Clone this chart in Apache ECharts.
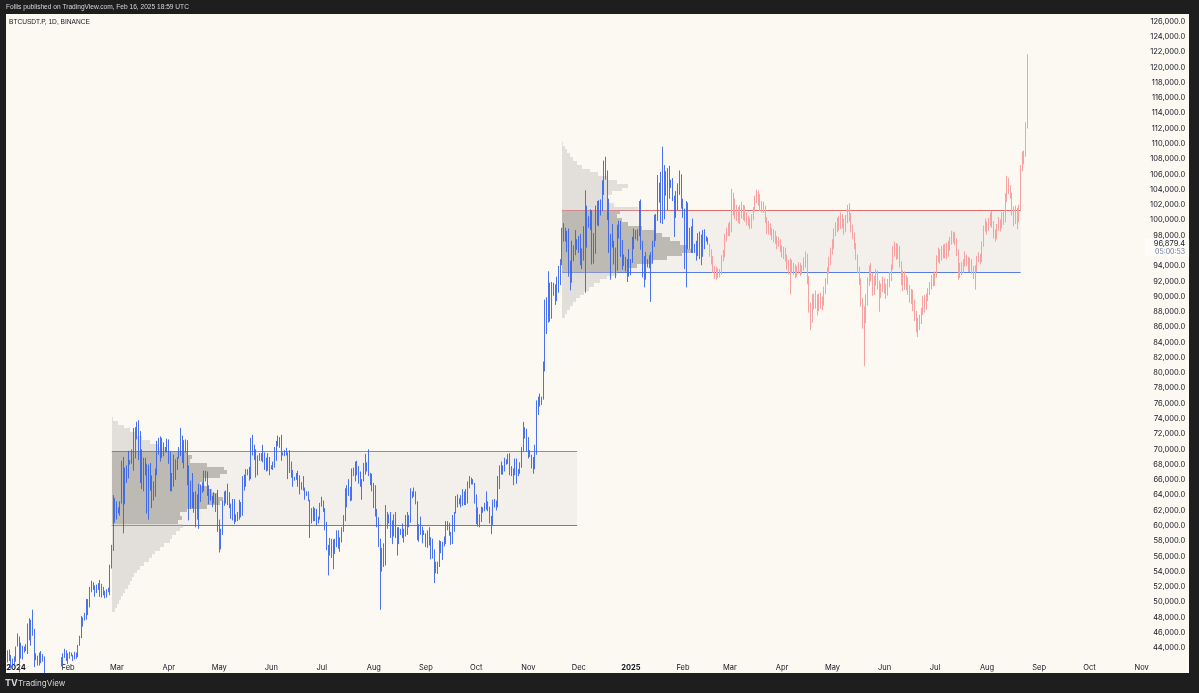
<!DOCTYPE html>
<html><head><meta charset="utf-8">
<script src="https://cdn.jsdelivr.net/npm/echarts@6/dist/echarts.min.js"></script>
<style>
html,body{margin:0;padding:0;background:#1e1e1e;width:1199px;height:693px;overflow:hidden}
#panel{position:absolute;left:6px;top:14px;width:1183px;height:659px;background:#fcf8f2}
#chart{position:absolute;left:0;top:0;width:1199px;height:693px}
</style></head><body>
<div id="panel"></div><div id="chart"></div>
<script>
// ---------- tick labels / axis ----------
const monthNames = ['Jan','Feb','Mar','Apr','May','Jun','Jul','Aug','Sep','Oct','Nov','Dec'];
const axisStartUTC = Date.UTC(2023, 11, 27);
const axisEndUTC = Date.UTC(2025, 10, 2);
const yMin = 42428, yMax = 126900;
const hiddenPriceTicks = [96000];

// ---------- real candles: [close, high, low] in thousands USDT; open = previous close ----------
const firstOpen = 42.5;
const btcDec2023 = [[43.4,43.7,42.1],[42.6,43.8,42.3],[42.1,43.1,41.3],[42.2,42.6,41.5],[42.3,42.9,41.9]];
const btcJan2024 = [[44.2,44.2,42.2],[44.9,45.9,44.2],[42.8,45.5,40.8],[44.2,44.7,42.6],[44.1,44.3,42.5],[43.9,44.2,43.4],[43.9,44.5,43.6],[47.0,47.2,43.2],[46.1,47.9,45.0],[46.6,47.7,44.3],
[46.3,49.0,45.6],[42.8,46.5,41.5],[42.8,43.3,42.4],[41.7,43.0,41.7],[42.5,43.4,41.7],[43.1,43.6,42.0],[42.7,43.2,42.2],[41.3,42.9,40.7],[41.6,42.2,40.3],[41.7,41.9,41.4],
[41.6,41.9,41.5],[39.5,41.7,39.4],[39.9,40.5,38.5],[40.1,40.6,39.5],[39.9,40.3,39.5],[41.8,42.2,39.8],[42.1,42.2,41.4],[42.0,42.8,41.6],[43.3,43.3,41.8],[42.9,43.9,42.7],
[42.6,43.7,42.3]];
const btcFeb2024 = [[43.1,43.3,41.9],[43.2,43.5,42.6],[43.0,43.4,42.9],[42.6,43.1,42.3],[42.7,43.5,42.5],[43.1,43.4,42.6],[44.3,44.4,42.8],[45.3,45.6,44.3],[47.1,48.2,45.3],[47.8,48.0,46.8],
[48.3,48.6,47.6],[50.0,50.4,47.7],[49.7,50.4,48.3],[51.8,52.0,49.3],[52.0,52.8,51.3],[52.1,52.6,51.6],[51.6,52.2,50.7],[52.1,52.3,51.2],[51.8,52.5,51.6],[52.3,52.9,50.7],
[51.8,52.4,50.6],[51.3,52.0,50.9],[50.7,51.5,50.5],[51.6,51.7,50.6],[51.7,51.9,51.3],[54.5,54.9,50.9],[57.0,57.5,54.4],[62.4,64.0,56.7],[61.2,63.6,60.4]];
const btcMar2024 = [[62.4,63.2,60.8],[62.0,62.4,61.6],[63.1,63.2,61.3],[68.3,68.5,62.9],[63.8,69.0,59.0],[66.1,67.6,62.8],[66.9,67.9,65.6],[68.3,69.8,66.2],[68.5,68.6,68.0],[69.0,70.0,68.1],
[72.1,72.8,67.2],[71.5,72.9,68.8],[73.1,73.6,71.3],[71.4,73.8,68.6],[69.5,72.4,65.6],[65.3,70.0,64.8],[68.4,68.9,64.5],[67.6,68.9,66.6],[62.0,68.1,61.6],[67.8,68.0,60.8],
[65.5,68.2,64.6],[63.8,66.6,62.3],[64.1,65.8,63.3],[67.2,67.5,63.8],[70.0,71.1,66.6],[69.9,71.5,69.3],[69.5,71.7,68.4],[70.7,71.5,68.9],[69.9,70.9,69.1],[69.6,70.3,69.6],
[71.3,71.4,69.6]];
const btcApr2024 = [[69.7,71.3,68.1],[65.5,69.7,64.5],[66.0,66.9,64.5],[68.5,69.3,65.1],[67.8,68.7,66.0],[68.9,69.0,67.3],[69.4,70.3,68.8],[71.6,72.8,69.1],[69.1,71.8,68.2],[70.6,71.2,67.5],
[70.0,71.3,69.6],[67.1,71.2,65.3],[63.9,67.9,60.7],[65.7,65.9,62.2],[63.4,66.9,62.3],[63.8,64.4,61.7],[61.3,64.5,59.8],[63.5,64.1,60.8],[63.8,65.5,59.6],[64.9,65.4,63.1],
[64.9,65.7,64.3],[66.8,67.2,64.5],[66.4,67.2,65.8],[64.3,67.1,63.9],[64.5,65.3,62.8],[63.8,64.8,63.3],[63.5,63.9,62.4],[63.1,64.4,62.9],[63.8,64.2,61.8],[60.6,64.7,59.2]];
const btcMay2024 = [[58.3,60.8,56.5],[59.1,59.6,56.9],[62.9,63.3,58.8],[63.9,64.5,62.6],[64.0,64.6,62.9],[63.2,65.5,62.7],[62.3,64.4,62.3],[61.2,62.9,60.9],[63.1,63.5,60.7],[60.8,63.5,60.2],
[60.8,61.5,60.5],[61.5,61.8,60.6],[62.9,63.4,60.8],[61.6,63.1,61.1],[66.3,66.5,61.3],[65.2,66.7,64.6],[67.0,67.4,65.1],[66.9,67.4,66.6],[66.3,67.7,65.9],[71.4,71.5,66.1],
[70.1,71.9,69.2],[69.1,70.6,68.6],[67.9,70.0,66.3],[68.5,69.2,66.6],[69.3,69.5,68.5],[68.5,69.5,68.5],[69.4,70.6,68.3],[68.3,69.6,67.3],[67.6,68.9,67.1],[68.4,69.5,67.2],
[67.5,69.0,66.6]];
const btcJun2024 = [[67.7,67.9,67.4],[67.8,68.4,67.3],[68.8,70.3,67.6],[70.6,71.1,68.5],[71.1,71.8,70.4],[70.8,71.6,70.2],[69.3,71.9,68.5],[69.3,69.6,69.2],[69.6,69.9,69.1],[69.5,70.2,69.2],
[67.3,69.6,66.1],[68.2,69.9,66.9],[66.8,68.4,66.3],[66.0,67.3,65.1],[66.2,66.4,65.9],[66.6,66.9,66.0],[66.5,67.2,65.1],[65.2,66.6,64.1],[64.9,65.7,64.7],[64.8,66.5,64.6],
[64.1,65.0,63.4],[64.3,64.5,63.9],[63.3,64.5,63.2],[60.3,63.4,58.4],[61.8,62.3,60.3],[60.9,62.5,60.6],[61.6,62.3,60.6],[60.3,62.2,60.0],[60.9,61.2,60.3],[62.7,63.0,60.8]];
const btcJul2024 = [[62.8,63.8,62.5],[62.0,63.3,61.8],[60.2,62.3,59.4],[57.0,60.5,56.8],[56.6,57.5,53.5],[58.2,58.4,56.1],[55.9,58.3,55.8],[56.7,58.2,54.3],[58.0,58.3,56.3],[57.7,59.4,57.2],
[57.3,59.4,57.0],[57.9,58.5,56.6],[59.2,59.8,57.8],[60.8,61.4,59.2],[64.7,64.9,60.6],[65.1,65.3,62.4],[64.1,66.1,63.9],[63.9,65.1,63.2],[66.7,67.5,63.3],[67.2,67.6,66.5],
[68.2,68.4,65.8],[67.6,68.5,66.6],[65.9,67.8,65.5],[65.4,67.1,65.1],[65.8,66.1,63.4],[67.9,68.2,65.8],[68.0,69.4,66.7],[68.3,68.3,67.1],[66.8,70.0,66.5],[66.2,66.9,65.3],
[64.6,66.8,64.5]];
const btcAug2024 = [[65.3,65.6,62.3],[61.5,65.0,61.2],[60.7,62.2,59.8],[58.1,61.1,57.2],[54.0,58.3,49.0],[56.0,57.1,54.0],[55.1,57.7,54.6],[61.7,62.7,54.8],[60.9,61.8,59.6],[60.9,61.5,60.3],
[58.7,61.8,58.4],[59.3,60.7,57.6],[60.6,61.5,58.6],[58.7,61.8,58.4],[57.6,59.8,56.1],[58.9,59.8,57.7],[59.5,59.6,58.8],[58.4,60.3,58.4],[59.4,59.6,57.8],[59.0,61.4,58.6],
[61.1,61.8,58.8],[60.4,61.4,59.8],[64.1,64.9,60.4],[64.1,64.5,63.6],[64.2,65.0,63.8],[62.8,64.5,62.8],[59.4,63.2,58.1],[59.0,60.2,57.9],[59.4,61.2,58.8],[59.1,59.9,57.7],
[58.9,59.4,58.8]];
const btcSep2024 = [[57.3,59.0,57.2],[59.1,59.4,57.1],[57.5,59.8,57.4],[58.0,58.5,55.6],[56.2,58.3,55.7],[54.0,56.9,52.5],[54.9,55.3,53.8],[54.9,55.3,53.7],[57.0,58.1,54.6],[57.6,58.0,56.4],
[57.3,57.9,55.5],[58.1,58.6,57.3],[60.5,60.6,57.6],[60.0,60.6,59.4],[59.1,60.4,58.7],[58.2,59.2,57.5],[60.3,61.4,57.6],[61.8,61.8,59.2],[62.9,63.9,61.6],[63.2,64.1,62.4],
[63.3,63.6,62.8],[63.6,64.0,62.4],[63.3,64.8,62.6],[64.3,64.5,62.7],[63.2,64.8,62.7],[65.2,65.8,62.9],[65.9,66.5,64.9],[65.9,66.3,65.4],[65.6,66.1,65.4],[63.3,65.6,62.9]];
const btcOct2024 = [[60.8,64.1,60.2],[60.6,62.4,59.9],[60.8,61.5,59.8],[62.1,62.5,60.5],[62.1,62.4,61.7],[62.8,63.0,61.9],[62.2,64.5,62.1],[62.1,63.2,61.9],[60.6,62.5,60.3],[60.3,61.3,58.9],
[62.5,63.4,60.1],[63.2,63.5,62.4],[62.9,63.3,62.0],[66.1,66.5,62.4],[67.0,67.9,64.8],[67.6,68.4,66.7],[67.4,67.9,66.7],[68.4,68.9,67.1],[68.4,68.7,68.0],[69.0,69.4,68.1],
[67.4,69.5,66.6],[67.4,67.8,66.5],[66.7,67.5,65.3],[68.2,68.8,66.6],[66.6,68.8,65.5],[67.0,67.4,66.5],[68.0,68.3,66.8],[69.9,70.3,67.6],[72.7,73.6,69.7],[72.3,72.9,71.4],
[70.2,72.7,69.7]];
const btcNov2024 = [[69.5,71.6,68.8],[69.3,69.9,69.0],[68.7,69.3,67.5],[67.8,69.0,66.8],[69.4,70.6,67.4],[75.6,76.4,69.3],[75.9,76.9,74.5],[76.5,77.3,75.6],[76.7,76.9,75.8],[80.4,81.5,76.5],
[88.7,89.6,80.2],[87.9,89.9,85.1],[90.5,93.3,86.6],[87.3,91.8,86.7],[91.1,91.9,87.1],[90.6,91.8,90.1],[89.8,91.6,88.9],[90.5,92.6,89.4],[92.3,94.0,90.9],[94.3,94.9,91.5],
[98.4,99.0,94.1],[98.9,99.6,97.2],[97.8,99.0,97.2],[98.0,98.6,95.8],[93.0,98.9,92.6],[91.9,94.7,90.8],[95.9,97.3,91.8],[95.6,96.7,94.6],[97.5,98.7,95.4],[96.4,97.5,96.1]];
const btcDec2024 = [[97.2,97.9,95.7],[95.8,98.2,94.1],[96.0,96.3,93.6],[98.8,99.2,94.7],[97.0,103.9,90.5],[99.9,101.9,96.4],[99.9,100.5,99.0],[101.2,101.4,98.7],[97.4,101.3,94.2],[96.6,98.3,94.3],
[101.1,101.9,95.6],[100.0,102.5,99.3],[101.4,102.6,99.2],[101.4,102.7,100.6],[104.3,105.2,101.2],[106.0,107.8,103.3],[106.1,108.3,105.3],[100.2,106.5,100.0],[97.5,102.8,95.7],[97.8,98.2,92.2],
[97.2,99.5,96.4],[95.1,97.3,94.2],[94.8,96.4,92.4],[98.7,99.4,93.4],[99.5,99.9,97.6],[95.8,99.9,95.2],[94.2,97.4,93.5],[95.2,95.5,94.0],[93.6,95.2,93.3],[92.8,94.9,91.9],
[93.5,96.2,92.6]];
const btcJan2025 = [[94.6,94.9,92.8],[96.9,97.8,94.4],[98.1,98.9,96.2],[98.2,98.7,97.5],[98.3,98.8,97.3],[102.2,102.5,97.9],[96.9,102.7,96.1],[95.0,97.3,92.5],[92.5,95.3,91.2],[94.7,95.8,92.2],
[94.5,94.9,93.8],[94.5,95.4,93.7],[94.5,95.8,89.3],[96.5,97.3,94.3],[100.5,100.7,96.5],[99.9,100.8,97.3],[104.1,105.9,99.9],[104.4,104.9,102.3],[101.3,106.3,99.6],[102.2,109.6,99.5],
[106.1,107.2,100.1],[103.6,106.4,103.2],[103.9,106.8,101.3],[104.8,107.1,102.8],[104.7,105.3,104.2],[102.6,105.5,102.5],[102.0,103.2,97.8],[101.3,103.8,100.3],[103.7,104.8,101.3],[104.7,106.5,103.3],
[102.4,106.0,101.5]];
const btcFeb2025 = [[100.6,102.8,100.3],[97.7,101.5,93.6],[101.4,102.5,91.2],[97.8,102.3,96.2],[96.6,99.0,96.2],[96.6,99.2,95.7],[96.5,100.2,95.7],[96.5,96.9,95.7],[96.5,97.3,94.7],[97.4,98.3,95.3],
[95.8,98.5,94.9],[97.9,98.1,94.1],[96.6,98.7,95.2],[97.5,98.8,96.2],[97.6,97.9,97.2],[96.9,97.7,96.8]];

// ---------- projected (red) candles: [close, high, low] ----------
const projFeb2025 = [[95.8,96.9,95.2],[94.9,96.2,94.2],[93.6,95.3,93.1],[92.9,94.0,92.3],[93.4,93.9,92.2],[92.7,93.7,92.4],[93.2,93.6,92.5],[95.0,95.4,92.9],[95.3,96.1,94.6],[97.8,98.2,95.1],[98.5,99.0,97.2],[99.1,99.6,97.9]];
const projMar2025 = [[98.6,99.8,97.9],[101.5,104.1,98.4],[102.2,103.6,100.6],[100.6,102.8,100.1],[101.3,102.0,99.9],[100.2,101.7,99.6],[101.6,102.0,99.5],[100.6,102.4,100.2],[101.5,102.0,100.0],[100.4,101.9,99.8],
[99.6,101.0,99.3],[99.9,100.6,99.2],[99.3,100.3,98.8],[100.3,100.8,98.9],[101.4,101.7,100.0],[102.6,103.2,101.1],[103.3,104.0,102.2],[102.8,103.9,101.9],[101.6,103.4,101.2],[102.0,102.5,101.0],
[101.6,102.4,100.9],[100.1,101.9,99.6],[98.6,100.4,98.2],[99.3,99.9,98.1],[98.7,99.6,98.0],[97.9,99.0,97.4],[98.3,98.8,97.1],[97.5,98.6,96.9],[96.8,97.9,96.2],[97.3,97.8,96.5],
[96.4,97.5,95.8]];
const projApr2025 = [[95.6,96.7,95.1],[96.2,96.5,94.9],[95.2,96.4,94.6],[94.3,95.5,93.5],[93.4,94.8,92.9],[94.6,95.0,90.3],[93.5,94.8,93.1],[93.9,94.4,92.8],[92.8,94.2,92.4],[93.4,94.0,92.6],
[94.1,94.5,93.0],[93.2,94.4,92.7],[93.8,94.1,92.9],[94.5,95.1,93.4],[95.4,95.9,93.8],[92.4,95.6,91.6],[88.6,92.7,87.9],[87.1,89.2,85.6],[89.6,90.3,86.6],[88.9,90.4,88.3],
[90.0,90.8,88.4],[88.6,90.3,87.5],[89.9,90.4,88.1],[88.8,90.5,88.4],[89.4,90.0,88.2],[90.8,91.3,88.8],[92.0,92.4,90.3],[93.4,93.8,91.6],[94.7,95.2,93.0],[95.9,96.4,94.1]];
const projMay2025 = [[96.6,97.5,95.5],[98.3,98.9,96.2],[98.8,99.7,97.9],[99.7,100.3,98.4],[99.1,100.5,98.6],[100.3,101.0,98.8],[99.5,100.8,98.9],[98.6,100.2,98.1],[100.2,100.7,98.4],[101.2,102.0,99.6],
[100.4,102.2,99.8],[98.9,100.9,98.4],[98.2,99.4,97.5],[96.8,98.4,96.2],[95.3,97.0,94.8],[93.6,95.5,93.1],[92.1,93.9,91.5],[89.6,92.4,88.7],[86.6,89.8,85.8],[88.1,88.7,80.9],
[89.2,90.3,86.5],[91.9,92.5,88.8],[93.4,94.1,91.4],[92.6,94.4,92.0],[90.8,93.1,90.1],[92.1,92.7,90.2],[93.0,93.6,91.4],[91.6,93.4,90.9],[90.3,92.1,88.0],[91.1,91.7,89.8],
[92.2,92.6,90.6]];
const projJun2025 = [[91.4,92.4,90.4],[90.5,91.7,89.7],[91.8,92.3,90.1],[92.6,93.2,91.2],[93.8,94.2,92.0],[95.9,96.6,93.5],[96.8,97.2,95.2],[95.4,97.0,94.8],[96.3,96.9,94.9],[94.4,96.6,93.8],
[92.1,94.6,91.5],[92.8,93.4,90.7],[91.6,93.3,90.9],[92.2,92.8,90.8],[91.0,92.5,90.2],[89.9,91.5,89.2],[90.6,91.0,89.0],[89.3,90.9,88.1],[87.6,89.6,86.8],[86.5,88.1,85.3],
[85.9,87.2,84.7],[87.2,87.6,85.6],[88.0,88.5,86.4],[89.6,90.1,87.6],[88.5,90.2,87.9],[89.9,90.4,88.3],[90.7,91.1,89.4],[91.3,91.9,90.2],[92.4,92.8,90.9],[91.9,93.0,91.3]];
const projJul2025 = [[92.8,93.3,91.4],[94.9,95.4,92.5],[95.8,96.4,94.5],[95.0,96.2,94.3],[96.1,96.6,94.7],[95.6,96.8,95.0],[96.5,96.9,95.0],[95.4,97.0,94.9],[96.7,97.3,95.2],[97.2,97.8,96.0],
[98.2,98.6,96.8],[97.9,98.5,97.0],[97.4,98.4,96.7],[95.9,97.6,95.3],[93.1,96.2,92.2],[93.9,94.4,92.4],[93.5,94.5,92.8],[94.4,94.9,93.1],[95.3,95.9,93.9],[94.8,95.5,94.0],
[93.7,95.2,93.2],[94.6,95.1,93.2],[93.5,94.9,93.0],[92.9,94.0,92.3],[93.6,94.1,90.9],[94.9,95.3,93.2],[95.2,95.8,94.5],[94.7,95.6,94.2],[96.8,97.2,94.5],[98.8,99.3,96.5],
[99.4,100.2,98.5]];
const projAug2025 = [[98.9,99.8,98.1],[99.8,100.3,98.6],[100.6,101.0,99.2],[99.6,101.2,99.0],[98.2,99.9,97.6],[97.8,98.8,97.2],[99.0,99.5,97.5],[99.7,100.4,98.6],[99.2,100.1,98.5],[100.5,101.0,98.9],
[100.0,101.1,99.4],[102.9,103.5,99.7],[105.2,105.8,102.4],[104.0,105.5,103.4],[103.4,104.6,102.8],[101.2,103.6,100.6],[100.0,101.8,99.2],[101.3,101.9,99.5],[100.1,101.6,98.8],[101.5,102.0,99.7],
[106.6,107.2,101.1],[108.4,109.0,106.4],[108.6,109.1,107.3],[112.3,112.8,108.3],[113.6,121.7,112.0]];

// ---------- last price label ----------
const lastPrice = 96879.4;
const countdownText = '05:00:53';

// ---------- ranges (rectangles) ----------
const zoneStarts = ['2024-02-27', '2024-11-21'];
const zoneEnds = ['2024-11-30', '2025-08-21'];
const zoneTops = [69800, 101300];
const zoneBottoms = [60100, 93150];

// ---------- volume profiles (price level in k, relative volume) ----------
const profile1Anchor = '2024-02-27';
const profile1Levels = [74.0,73.5,73.0,72.5,72.0,71.5,71.0,70.5,70.0,69.5,69.0,68.5,68.0,67.5,67.0,66.5,66.0,65.5,65.0,64.5,64.0,63.5,63.0,62.5,62.0,61.5,61.0,60.5,60.0,59.5,59.0,58.5,58.0,57.5,57.0,56.5,56.0,55.5,55.0,54.5,54.0,53.5,53.0,52.5,52.0,51.5,51.0,50.5,50.0,49.5,49.0];
const profile1Volume = [1,6,12,18,24,30,38,46,55,76,80,78,95,112,115,108,92,88,96,100,106,111,108,95,75,68,70,66,71,68,64,60,58,52,48,43,40,37,32,28,25,22,20,18,16,13,11,9,7,5,3];
const profile1ValueArea = [60.1, 69.8];

const profile2Anchor = '2024-11-21';
const profile2Levels = [110.0,109.5,109.0,108.5,108.0,107.5,107.0,106.5,106.0,105.5,105.0,104.5,104.0,103.5,103.0,102.5,102.0,101.5,101.0,100.5,100.0,99.5,99.0,98.5,98.0,97.5,97.0,96.5,96.0,95.5,95.0,94.5,94.0,93.5,93.0,92.5,92.0,91.5,91.0,90.5,90.0,89.5,89.0,88.5,88.0,87.5];
const profile2Volume = [1,3,5,8,11,15,20,28,36,45,55,66,60,50,46,45,52,76,58,55,60,66,80,92,100,108,118,126,130,120,105,90,75,65,55,45,38,32,27,22,18,14,11,8,5,3];
const profile2ValueArea = [93.15, 101.3];

// ================= build =================
const categories = [];
for (let t = axisStartUTC; t <= axisEndUTC; t += 864e5) categories.push(new Date(t).toISOString().slice(0, 10));

function toCandles(rows, open0, startIdx) {
  let o = open0;
  return rows.map(([c, h, l], i) => {
    const item = [startIdx + i, o * 1000, c * 1000, Math.min(l, o, c) * 1000, Math.max(h, o, c) * 1000];
    o = c; return item;
  });
}
const realRows = [].concat(btcDec2023, btcJan2024, btcFeb2024, btcMar2024, btcApr2024, btcMay2024, btcJun2024,
  btcJul2024, btcAug2024, btcSep2024, btcOct2024, btcNov2024, btcDec2024, btcJan2025, btcFeb2025);
const projRows = [].concat(projFeb2025, projMar2025, projApr2025, projMay2025, projJun2025, projJul2025, projAug2025);
const realCandles = toCandles(realRows, firstOpen, 0);
const projCandles = toCandles(projRows, realRows[realRows.length - 1][0], realRows.length);

function fmtPrice(v) {
  const s = Math.round(v * 10) / 10;
  const [ip, fp] = s.toFixed(1).split('.');
  return ip.replace(/\B(?=(\d{3})+(?!\d))/g, ',') + '.' + fp;
}

const FONT = 'Inter, Roboto, sans-serif';
const SMALLFONT = '"Liberation Sans", Arial, sans-serif';
const gridLeft = 6.76, gridWidth = 1137.36, gridTop = 14.6, gridBottomPx = 660;

function profileSeries(anchor, levels, vols, va, widthDays) {
  const maxVol = Math.max(...vols);
  const idx = categories.indexOf(anchor);
  const half = 250;
  return {
    type: 'custom', z: 2, silent: true, clip: true,
    data: levels.map((p, i) => [idx, p * 1000, vols[i]]),
    encode: { x: 0, y: 1 },
    renderItem(params, api) {
      const x0 = Math.round(api.coord([api.value(0), api.value(1)])[0]);
      const yT = Math.round(api.coord([api.value(0), api.value(1) + half])[1]);
      const yB = Math.round(api.coord([api.value(0), api.value(1) - half])[1]);
      const bw = api.size([1, 0])[0];
      const w = Math.round(api.value(2) / maxVol * widthDays * bw);
      const p = api.value(1) / 1000;
      const inVA = p >= va[0] && p <= va[1];
      return { type: 'rect', shape: { x: x0, y: yT, width: w, height: yB - yT },
        style: { fill: inVA ? 'rgba(118,114,108,0.44)' : 'rgba(188,186,182,0.40)' } };
    }
  };
}

const chart = echarts.init(document.getElementById('chart'), null, { renderer: 'canvas' });
const option = {
  backgroundColor: 'transparent',
  animation: false,
  grid: { left: gridLeft, width: gridWidth, top: gridTop, bottom: 693 - gridBottomPx, containLabel: false },
  xAxis: {
    type: 'category', data: categories, boundaryGap: true,
    axisLine: { show: false }, axisTick: { show: false }, splitLine: { show: false },
    axisLabel: {
      interval: (i, v) => v.slice(8) === '01', margin: 4, fontSize: 7.5, color: '#131722', fontFamily: FONT,
      formatter: v => { const m = +v.slice(5, 7); return m === 1 ? '{y|' + v.slice(0, 4) + '}' : monthNames[m - 1]; },
      rich: { y: { fontWeight: 'bold', fontSize: 7.5, color: '#131722', fontFamily: FONT } }
    }
  },
  yAxis: {
    type: 'value', position: 'right', min: yMin, max: yMax, splitNumber: 42,
    axisLine: { show: false }, axisTick: { show: false }, splitLine: { show: false },
    axisLabel: {
      margin: 41, align: 'right', fontSize: 7.5, color: '#131722', fontFamily: FONT,
      showMinLabel: false, showMaxLabel: false,
      formatter: v => (v % 2000 === 0 && hiddenPriceTicks.indexOf(v) < 0) ? fmtPrice(v) : ''
    }
  },
  series: [
    {
      type: 'custom', z: 1, silent: true, clip: true,
      data: zoneStarts.map((s, i) => [categories.indexOf(s), categories.indexOf(zoneEnds[i]), zoneTops[i], zoneBottoms[i]]),
      encode: { x: [0, 1], y: [2, 3] },
      renderItem(params, api) {
        const tl = api.coord([api.value(0), api.value(2)]);
        const br = api.coord([api.value(1), api.value(3)]);
        const yt = Math.round(tl[1]) + 0.5, yb = Math.round(br[1]) + 0.5;
        return { type: 'group', children: [
          { type: 'rect', shape: { x: tl[0], y: yt, width: br[0] - tl[0], height: yb - yt }, style: { fill: 'rgba(200,200,200,0.16)' } },
          { type: 'line', shape: { x1: tl[0], y1: yt, x2: br[0], y2: yt }, style: { stroke: '#e26d6d', lineWidth: 1 } },
          { type: 'line', shape: { x1: tl[0], y1: yb, x2: br[0], y2: yb }, style: { stroke: '#5a7ce2', lineWidth: 1 } }
        ] };
      }
    },
    profileSeries(profile1Anchor, profile1Levels, profile1Volume, profile1ValueArea, 68.5),
    profileSeries(profile2Anchor, profile2Levels, profile2Volume, profile2ValueArea, 77.4),
    {
      type: 'candlestick', z: 5, clip: true, barWidth: 0.6,
      data: realCandles, encode: { x: 0, y: [1, 2, 3, 4] },
      itemStyle: { color: '#7596f4', color0: '#7596f4', borderColor: '#3563ea', borderColor0: '#3563ea', borderColorDoji: '#3563ea', borderWidth: 0.9 }
    },
    {
      type: 'candlestick', z: 4, clip: true, barWidth: 0.8,
      data: projCandles, encode: { x: 0, y: [1, 2, 3, 4] },
      itemStyle: { color: '#f8b4b4', color0: '#f8b4b4', borderColor: '#f4a2a2', borderColor0: '#f4a2a2', borderColorDoji: '#f4a2a2', borderWidth: 1 }
    }
  ],
  graphic: [
    { type: 'text', id: 'hdr', left: 6, top: 4, style: { text: 'Follis published on TradingView.com, Feb 16, 2025 18:59 UTC', fill: '#d6d6d6', font: '6.6px ' + SMALLFONT } },
    { type: 'text', id: 'sym', left: 9, top: 18.5, style: { text: 'BTCUSDT.P, 1D, BINANCE', fill: '#131722', font: '6.6px ' + SMALLFONT } },
    { type: 'text', id: 'tvlogo', left: 5, top: 679, style: { text: 'TV', fill: '#d6d6d6', font: 'bold 9px ' + FONT } },
    { type: 'text', id: 'tvname', left: 18, top: 680, style: { text: 'TradingView', fill: '#d6d6d6', font: '8px ' + FONT } }
  ]
};
chart.setOption(option);

const yLast = chart.convertToPixel({ yAxisIndex: 0 }, lastPrice);
const xLabelRight = gridLeft + gridWidth + 41;
chart.setOption({ graphic: [
  { type: 'rect', id: 'lpbg', shape: { x: xLabelRight - 40, y: yLast - 5, width: 44, height: 17 }, style: { fill: 'rgba(255,255,255,0.55)' }, z: 10 },
  { type: 'text', id: 'lp', x: xLabelRight, y: yLast, style: { text: fmtPrice(lastPrice), fill: '#131722', font: '7.5px ' + FONT, align: 'right', verticalAlign: 'middle' }, z: 11 },
  { type: 'text', id: 'cd', x: xLabelRight, y: yLast + 8, style: { text: countdownText, fill: '#6f7c99', font: '7px ' + FONT, align: 'right', verticalAlign: 'middle' }, z: 11 }
] });
</script></body></html>
